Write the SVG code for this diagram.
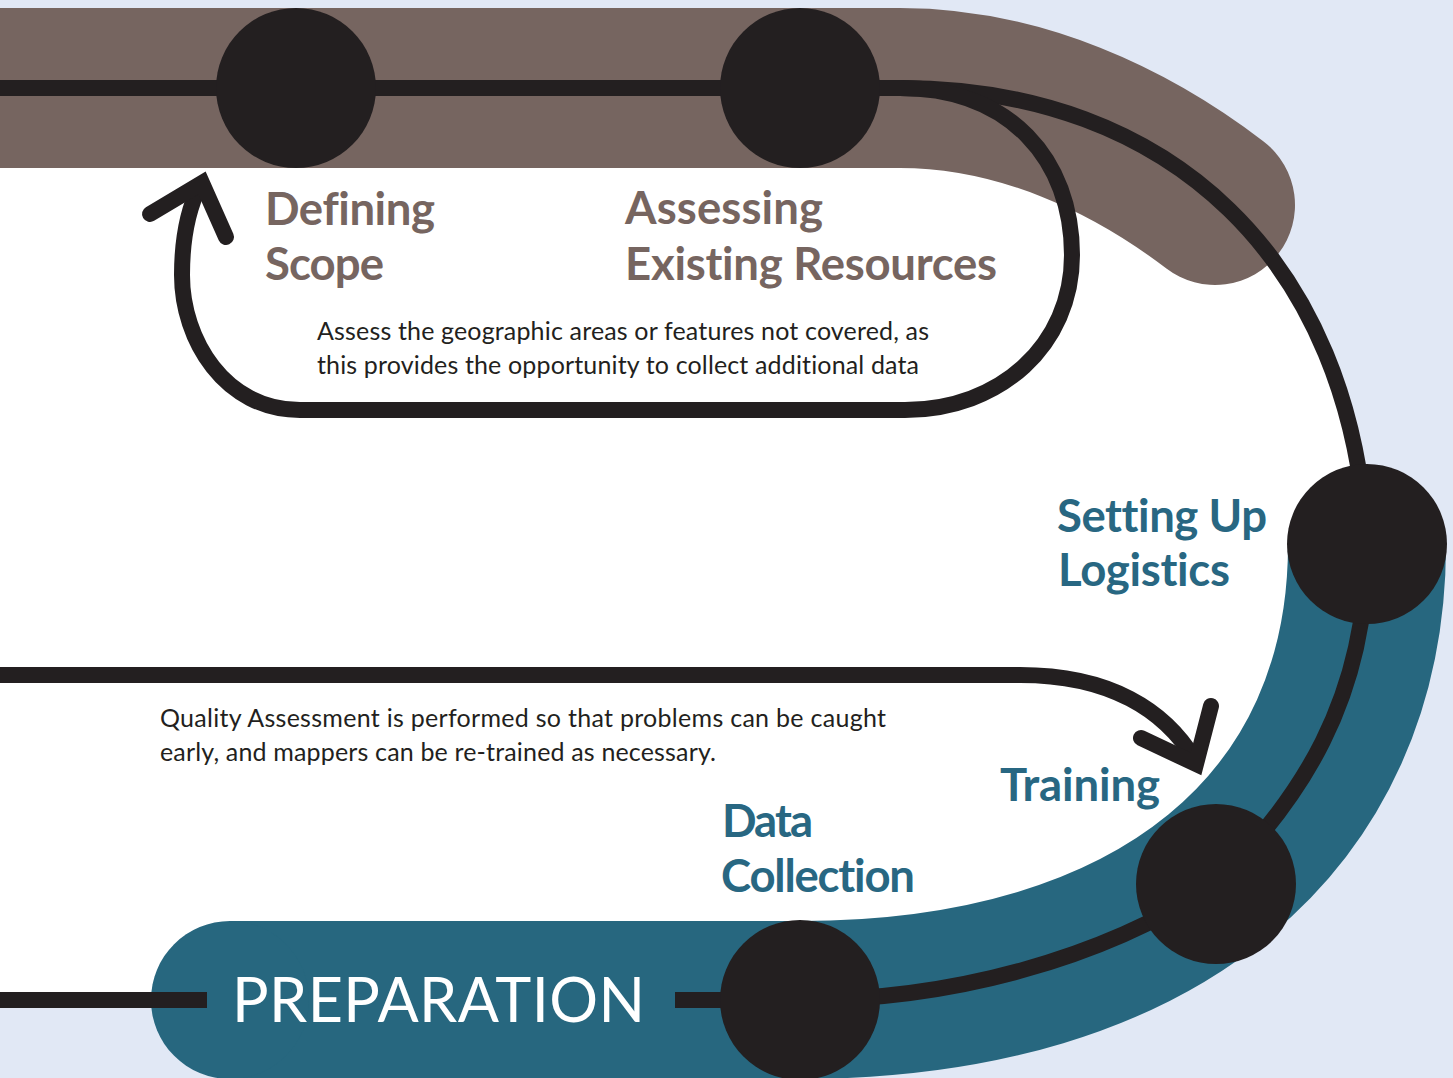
<svg xmlns="http://www.w3.org/2000/svg" width="1453" height="1078" viewBox="0 0 1453 1078">
<style>
text{font-variant-ligatures:none}
.ln{fill:none;stroke:#231f20;stroke-width:16}
.arr{fill:none;stroke:#231f20;stroke-width:16;stroke-linecap:round;stroke-linejoin:miter}
.node{fill:#231f20}
.hb{font-family:Lato,"Open Sans",sans-serif;font-weight:700;font-size:45.5px;fill:#766560}
.ht{font-family:Lato,"Open Sans",sans-serif;font-weight:700;font-size:45.5px;fill:#286782}
.body{font-family:Lato,"Open Sans",sans-serif;font-size:25px;fill:#231f20}
.prep{font-family:Lato,"Open Sans",sans-serif;font-size:61px;fill:#ffffff}
</style>
<rect x="0" y="0" width="1453" height="1078" fill="#e1e8f5"/>
<path id="region" d="M0,88 H900 C1170,88 1352,260 1367,545 C1367,700 1300,800 1215,885 C1100,960 950,1000 800,1000 H0 Z" fill="#ffffff"/>
<g id="bands">
<path d="M-10,88 H900 C1020,88 1130,140 1215,205" fill="none" stroke="#766560" stroke-width="160" stroke-linecap="round"/>
<path d="M230,1000 H800 C1160,1000 1367,820 1367,545" fill="none" stroke="#27677f" stroke-width="158"/>
<circle cx="230" cy="1000" r="79" fill="#27677f"/>
</g>
<g id="connectors">
<path class="ln" d="M-10,88 H900 C1170,88 1352,260 1367,545 C1367,700 1300,800 1215,885 C1100,960 950,1000 800,1000 H675"/>
<path class="ln" d="M207,1000 H-10"/>
<path class="ln" d="M900,88 C1010,88 1072,160 1072,255 C1072,345 1000,410 905,410 H300 C225,410 182,340 182,275 C182,235 190,205 200,185"/>
<polyline class="arr" points="150,214 202,183 226,237"/>
<path class="ln" d="M-10,675 H1020 C1110,675 1165,710 1195,760"/>
<polyline class="arr" points="1141,738 1196,764 1211,706"/>
</g>
<g id="node-defining-scope">
<circle class="node" cx="296" cy="88" r="80"/>
<text class="hb" x="265" y="225" textLength="170" lengthAdjust="spacing">Defining</text>
<text class="hb" x="265" y="280" textLength="119" lengthAdjust="spacing">Scope</text>
</g>
<g id="node-assessing">
<circle class="node" cx="800" cy="88" r="80"/>
<text class="hb" x="625" y="224" textLength="198" lengthAdjust="spacing">Assessing</text>
<text class="hb" x="625" y="280" textLength="372" lengthAdjust="spacing">Existing Resources</text>
</g>
<g id="node-logistics">
<circle class="node" cx="1367" cy="544" r="80"/>
<text class="ht" x="1057" y="532" textLength="210" lengthAdjust="spacing">Setting Up</text>
<text class="ht" x="1058" y="586" textLength="172" lengthAdjust="spacing">Logistics</text>
</g>
<g id="node-training">
<circle class="node" cx="1216" cy="884" r="80"/>
<text class="ht" x="1000" y="801" textLength="160" lengthAdjust="spacing">Training</text>
</g>
<g id="node-data-collection">
<circle class="node" cx="800" cy="1000" r="80"/>
<text class="ht" x="722" y="837" textLength="91" lengthAdjust="spacing">Data</text>
<text class="ht" x="721" y="892" textLength="194" lengthAdjust="spacing">Collection</text>
</g>
<g id="notes">
<text class="body" x="317" y="340" textLength="612" lengthAdjust="spacing">Assess the geographic areas or features not covered, as</text>
<text class="body" x="317" y="374" textLength="602" lengthAdjust="spacing">this provides the opportunity to collect additional data</text>
<text class="body" x="160" y="727" textLength="726" lengthAdjust="spacing">Quality Assessment is performed so that problems can be caught</text>
<text class="body" x="160" y="761" textLength="556" lengthAdjust="spacing">early, and mappers can be re-trained as necessary.</text>
</g>
<g id="label-preparation">
<text class="prep" x="232" y="1022" textLength="413" lengthAdjust="spacing">PREPARATION</text>
</g>
</svg>
